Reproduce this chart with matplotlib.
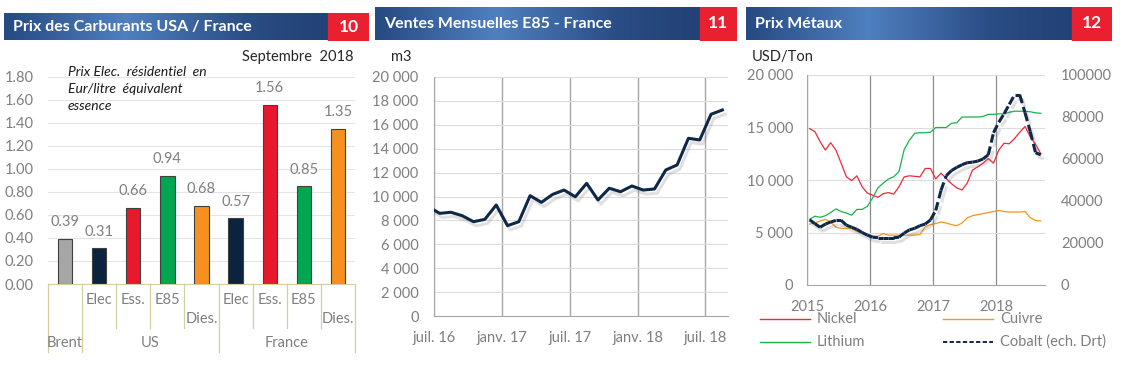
import numpy as np
import matplotlib
matplotlib.use('Agg')
import matplotlib.pyplot as plt
import matplotlib.patheffects as pe
import matplotlib.transforms as mtransforms
from matplotlib.colors import LinearSegmentedColormap
from matplotlib.collections import LineCollection
from matplotlib.lines import Line2D
from matplotlib.patches import Rectangle

plt.rcParams['font.family'] = ['Lato', 'DejaVu Sans']

W, H = 1126, 369

# ---- chart 10 : fuel prices (EUR / litre)
fuel_labels = ['', 'Elec', 'Ess.', 'E85', 'Dies.', 'Elec', 'Ess.', 'E85', 'Dies.']
fuel_groups = ['Brent', 'US', 'France']
group_sizes = [1, 4, 4]
fuel_prices = [0.39, 0.31, 0.66, 0.94, 0.68, 0.57, 1.56, 0.85, 1.35]
fuel_colors = ['#a6a6a6', '#0c2340', '#e8192c', '#00a650', '#f7901e',
               '#0c2340', '#e8192c', '#00a650', '#f7901e']

# ---- chart 11 : monthly E85 sales France (m3), juin 16 -> août 18
e85_sales = [9150, 8590, 8680, 8390, 7890, 8090, 9290, 7560, 7890, 10070,
             9510, 10180, 10540, 9980, 11100, 9710, 10690, 10400, 10880,
             10540, 10630, 12220, 12640, 14870, 14730, 16880, 17240]
e85_ticks = ['juil. 16', 'janv. 17', 'juil. 17', 'janv. 18', 'juil. 18']

# ---- chart 12 : metals (USD/ton), janv. 2015 -> sept. 2018
years = ['2015', '2016', '2017', '2018']
nickel = [14900, 14600, 13650, 12850, 13550, 12850, 11600, 10300, 9950, 10400,
          9350, 8750, 8550, 8350, 8700, 8800, 8650, 9350, 10300, 10400,
          10350, 10300, 11100, 11100, 10100, 10650, 10150, 9650, 9250, 9050,
          9700, 10950, 11250, 11600, 12050, 11600, 12850, 13500, 13450, 13950,
          14550, 15100, 14100, 13400, 12500]
lithium = [6250, 6550, 6450, 6600, 6900, 7250, 7000, 6850, 6650, 7200,
           7200, 7500, 8300, 9250, 9700, 10100, 10300, 10800, 12900, 13800,
           14450, 14500, 14500, 14550, 15000, 15000, 15000, 15400, 15450, 16000,
           16000, 16000, 16000, 16050, 16250, 16250, 16300, 16300, 16450, 16550,
           16550, 16550, 16500, 16400, 16350]
copper = [5800, 5900, 6100, 6250, 6000, 5500, 5400, 5400, 5400, 5100,
          4950, 4700, 4650, 4650, 4900, 4750, 4750, 4750, 4750, 4750,
          4750, 4800, 5550, 5750, 5850, 6000, 5900, 5750, 5650, 5900,
          6400, 6600, 6700, 6800, 6900, 7000, 7100, 7000, 6950, 6950,
          6950, 7000, 6400, 6150, 6100]
cobalt = [31000, 29250, 27500, 29000, 30000, 30750, 30750, 28500, 27500, 26500,
          25000, 23750, 22750, 22500, 22500, 22500, 22500, 22750, 24750, 26250,
          27000, 28250, 29000, 31000, 35500, 45000, 52000, 54500, 56000, 57250,
          58250, 58500, 59000, 60000, 62000, 72500, 77500, 81500, 86000, 90500,
          90500, 82000, 73000, 63000, 62000]

GREY_TXT = '#7f7f7f'
NAVY = '#0f2847'
RED = '#e8202f'
FS = 10.5


def rect(l, t, r, b):
    return [l / W, 1 - b / H, (r - l) / W, (b - t) / H]


def fig_xy(x, y):
    return x / W, 1 - y / H


def thousands(v, pos=None):
    return f'{int(v):,}'.replace(',', ' ')


def shadow():
    return [pe.SimpleLineShadow(offset=(2, -3), shadow_color='#555555', alpha=0.18),
            pe.Normal()]


fig = plt.figure(figsize=(W / 100, H / 100), dpi=100)
hdr_cmap = LinearSegmentedColormap.from_list('hdr', ['#264a82', '#4f80bf', '#2a4d85', '#1f3c6e'])


def header(l, t, r, b, red_l, title, num):
    ax = fig.add_axes(rect(l, t, r, b))
    ax.imshow(np.linspace(0, 1, 256)[None, :], aspect='auto', cmap=hdr_cmap,
              extent=[0, 1, 0, 1])
    f = (red_l - l) / (r - l)
    ax.add_patch(Rectangle((f, 0), 1 - f, 1, color=RED, transform=ax.transAxes))
    ax.text(9 / (r - l), 0.5, title, color='white', fontsize=11.5, fontweight='bold',
            va='center', ha='left', transform=ax.transAxes)
    ax.text((1 + f) / 2, 0.5, num, color='white', fontsize=12.5, fontweight='bold',
            va='center', ha='center', transform=ax.transAxes)
    ax.set_xlim(0, 1)
    ax.set_ylim(0, 1)
    ax.axis('off')


header(4, 12.5, 369, 40.5, 328, 'Prix des Carburants USA / France', '10')
header(375, 6.5, 737, 40.5, 700, 'Ventes Mensuelles E85 - France', '11')
header(746, 6.5, 1112, 40.5, 1072, 'Prix Métaux', '12')

# ================= chart 10
ax1 = fig.add_axes(rect(48, 77, 355, 284))
x1 = np.arange(len(fuel_prices)) + 0.5
ax1.bar(x1, fuel_prices, width=0.42, color=fuel_colors, edgecolor='#404040',
        linewidth=0.8, zorder=3)
for x, v in zip(x1, fuel_prices):
    ax1.annotate(f'{v:.2f}', (x, v), xytext=(0, 7), textcoords='offset points',
                 ha='center', va='bottom', fontsize=FS, color=GREY_TXT)
ax1.set_xlim(0, len(fuel_prices))
ax1.set_ylim(0, 1.8)
ax1.set_yticks(np.arange(0, 1.81, 0.2))
ax1.yaxis.set_major_formatter(lambda v, p: f'{v:.2f}')
ax1.set_xticks([])
ax1.tick_params(axis='y', length=0, labelsize=FS, labelcolor=GREY_TXT, pad=10.5)
ax1.grid(axis='y', color='#e4e4e4', linewidth=0.8, zorder=0)
for s in ['left', 'right', 'top']:
    ax1.spines[s].set_visible(False)
ax1.spines['bottom'].set_color('#d5cda2')
ax1.spines['bottom'].set_zorder(4)

tr = mtransforms.blended_transform_factory(ax1.transData, ax1.transAxes)
short_y, full_y = (284 - 328) / 207, (284 - 352) / 207
for x, lab in zip(x1, fuel_labels):
    if lab:
        yy = (284 - 319) / 207 if lab == 'Dies.' else (284 - 300) / 207
        ax1.text(x, yy, lab, transform=tr, ha='center', va='center',
                 fontsize=FS, color=GREY_TXT)
bounds = np.concatenate([[0], np.cumsum(group_sizes)])
for i in range(len(fuel_prices) + 1):
    y_end = full_y if i in bounds else short_y
    ax1.add_line(Line2D([i, i], [0, y_end], transform=tr, color='#d5cda2',
                        linewidth=0.9, clip_on=False))
for g, a, b in zip(fuel_groups, bounds[:-1], bounds[1:]):
    ax1.text((a + b) / 2, (284 - 343) / 207, g, transform=tr, ha='center',
             va='center', fontsize=FS, color=GREY_TXT)

fig.text(*fig_xy(353, 57), 'Septembre  2018', ha='right', va='center',
         fontsize=FS, color='#262626')
fig.text(*fig_xy(68, 89), 'Prix Elec.  résidentiel  en\nEur/litre  équivalent\nessence',
         ha='left', va='center', fontsize=10, style='italic', color='#1a1a1a',
         linespacing=1.55)

# ================= chart 11
ax2 = fig.add_axes(rect(434, 77, 728, 316))
x2 = np.arange(len(e85_sales)) - 0.5
ax2.plot(x2, e85_sales, color=NAVY, linewidth=2.2, zorder=3, path_effects=shadow())
ax2.set_xlim(0, 26)
ax2.set_ylim(0, 20000)
ax2.set_yticks(np.arange(0, 20001, 2000))
ax2.yaxis.set_major_formatter(thousands)
ax2.set_xticks(np.arange(len(e85_ticks)) * 6)
ax2.set_xticklabels(e85_ticks)
ax2.tick_params(length=0, labelsize=FS, labelcolor=GREY_TXT)
ax2.tick_params(axis='y', pad=11)
ax2.tick_params(axis='x', pad=11)
ax2.grid(axis='y', color='#dcdcdc', linewidth=0.8, zorder=0)
ax2.grid(axis='x', color='#a6a6a6', linewidth=1.0, zorder=0)
for s in ['right', 'top']:
    ax2.spines[s].set_visible(False)
for s in ['left', 'bottom']:
    ax2.spines[s].set_color('#a6a6a6')
fig.text(*fig_xy(391, 57), 'm3', ha='left', va='center', fontsize=FS, color='#262626')

# ================= chart 12
ax3 = fig.add_axes(rect(807, 75, 1045, 285))
x3 = np.arange(len(nickel)) + 0.5
ax3.plot(x3, nickel, color='#f0283c', linewidth=0.9, zorder=3)
ax3.plot(x3, copper, color='#f7941d', linewidth=0.9, zorder=3)
ax3.plot(x3, lithium, color='#19b24b', linewidth=0.9, zorder=3)
ax3.set_xlim(0, 45.3)
ax3.set_ylim(0, 20000)
ax3.set_yticks(np.arange(0, 20001, 5000))
ax3.yaxis.set_major_formatter(thousands)
ax3.set_xticks(np.arange(len(years)) * 12)
ax3.set_xticklabels(years)
ax3.tick_params(length=0, labelsize=FS, labelcolor=GREY_TXT)
ax3.tick_params(axis='y', pad=10)
ax3.tick_params(axis='x', pad=11)
ax3.grid(axis='y', color='#dcdcdc', linewidth=0.8, zorder=0)
ax3.grid(axis='x', color='#8c8c8c', linewidth=0.9, zorder=0)
for s in ['right', 'top']:
    ax3.spines[s].set_visible(False)
for s in ['left', 'bottom']:
    ax3.spines[s].set_color('#a6a6a6')

ax3r = ax3.twinx()
ax3r.set_position(ax3.get_position())
pts = np.column_stack([x3, cobalt])
segs = np.stack([pts[:-1], pts[1:]], axis=1)
lc = LineCollection(segs, colors=NAVY, linewidths=2.2, linestyles=(0, (2.8, 1.3)),
                    capstyle='butt', zorder=4, path_effects=shadow())
ax3r.add_collection(lc)
ax3r.set_ylim(0, 100000)
ax3r.set_yticks(np.arange(0, 100001, 20000))
ax3r.tick_params(length=0, labelsize=FS, labelcolor=GREY_TXT, pad=11.5)
for s in ax3r.spines.values():
    s.set_visible(False)
fig.text(*fig_xy(752, 57), 'USD/Ton', ha='left', va='center', fontsize=FS, color='#262626')

# legend under chart 12
legend_items = [('Nickel', '#f0283c', '-', 760, 319), ('Cuivre', '#f7941d', '-', 943, 319),
                ('Lithium', '#19b24b', '-', 760, 342), ('Cobalt (ech. Drt)', NAVY, '--', 943, 342)]
for lab, col, ls, lx, ly in legend_items:
    xa, ya = fig_xy(lx, ly)
    xb, _ = fig_xy(lx + 50, ly)
    ln = Line2D([xa, xb], [ya, ya], transform=fig.transFigure, color=col,
                linewidth=1.4 if ls == '--' else 1.0)
    if ls == '--':
        ln.set_dashes((2.2, 1.2))
    fig.add_artist(ln)
    fig.text(*fig_xy(lx + 57, ly), lab, ha='left', va='center', fontsize=FS, color=GREY_TXT)

fig.savefig('out.png', dpi=100, facecolor='white')
